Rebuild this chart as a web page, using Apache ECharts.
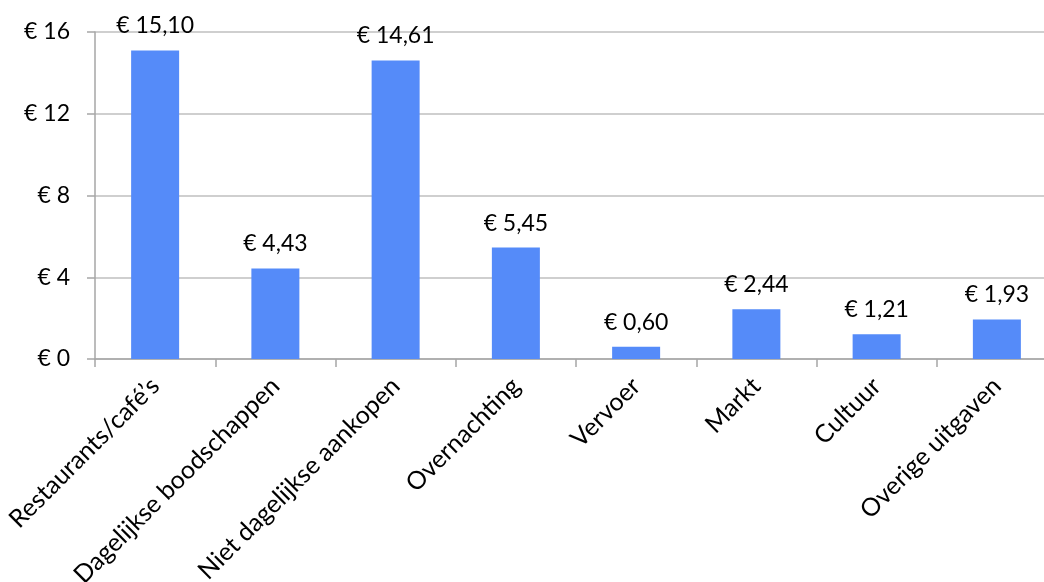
<!DOCTYPE html>
<html>
<head>
<meta charset="utf-8">
<script src="https://cdn.jsdelivr.net/npm/echarts@6/dist/echarts.min.js"></script>
<style>
  html, body { margin: 0; padding: 0; background: #fff; }
  #chart { width: 1044px; height: 582px; }
</style>
</head>
<body>
<div id="chart"></div>
<script>
  // uitgaven per categorie (euro)
  var categories = ['Restaurants/café\u2019s', 'Dagelijkse boodschappen', 'Niet dagelijkse aankopen',
    'Overnachting', 'Vervoer', 'Markt', 'Cultuur', 'Overige uitgaven'];
  var values = [15.10, 4.43, 14.61, 5.45, 0.60, 2.44, 1.21, 1.93];
  var yTicks = [0, 4, 8, 12, 16];

  var font = 'Lato, "Open Sans", sans-serif';
  var euro = function (v, dec) {
    return '€ ' + (dec ? v.toFixed(dec).replace('.', ',') : v);
  };

  var chart = echarts.init(document.getElementById('chart'));
  chart.setOption({
    animation: false,
    // plot runs past the right edge of the picture, like the original
    grid: { left: 95, top: 32, bottom: 223, width: 962, containLabel: false, outerBoundsMode: 'none' },
    xAxis: {
      type: 'category',
      data: categories,
      axisLine: { lineStyle: { color: '#a6a6a6', width: 1.5 } },
      axisTick: { show: true, length: 8, lineStyle: { color: '#a6a6a6', width: 1.5 } },
      axisLabel: {
        rotate: 45,
        margin: 23,
        interval: 0,
        color: '#000',
        fontFamily: font,
        fontSize: 25
      }
    },
    yAxis: {
      type: 'value',
      min: yTicks[0],
      max: yTicks[yTicks.length - 1],
      interval: 4,
      axisLine: { show: true, lineStyle: { color: '#a6a6a6', width: 1.5 } },
      axisTick: { show: true, length: 8, lineStyle: { color: '#a6a6a6', width: 1.5 } },
      splitLine: { lineStyle: { color: '#bfbfbf', width: 1.5 } },
      axisLabel: {
        margin: 25,
        color: '#000',
        fontFamily: font,
        fontSize: 23,
        formatter: function (v) { return euro(v); }
      }
    },
    series: [{
      type: 'bar',
      data: values,
      barWidth: 48,
      itemStyle: { color: '#558bf9' },
      label: {
        show: true,
        position: 'top',
        distance: 13,
        color: '#000',
        fontFamily: font,
        fontSize: 23,
        formatter: function (p) { return euro(p.value, 2); }
      }
    }]
  });
</script>
</body>
</html>
